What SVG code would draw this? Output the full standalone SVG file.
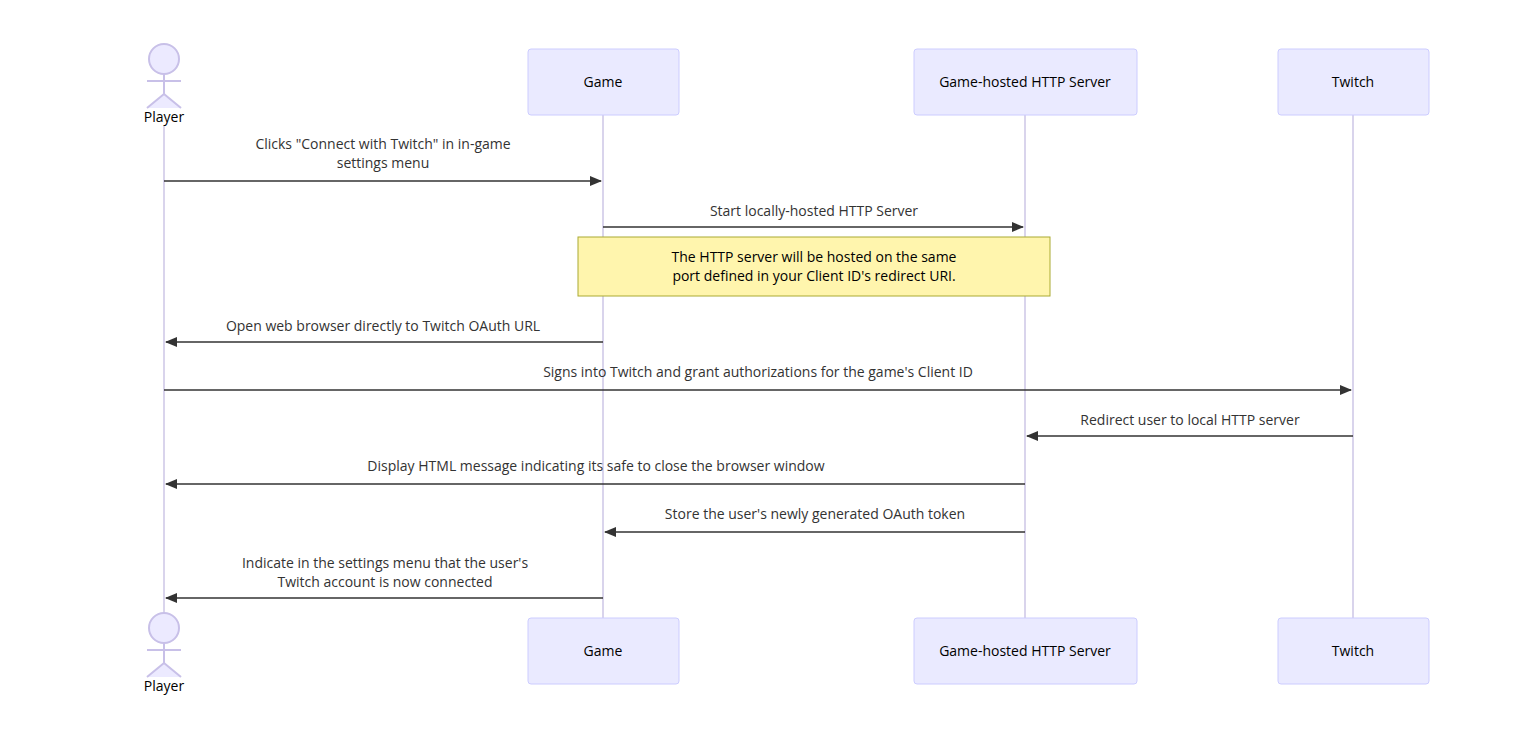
<svg xmlns="http://www.w3.org/2000/svg" width="1518" height="734" viewBox="0 0 1518 734">
<style>
.box{fill:#eaeaff;stroke:#ccccff;stroke-width:1}
.lab{font-family:"Open Sans","Liberation Sans",sans-serif;font-size:14px;fill:#000;text-anchor:middle}
.msg{font-family:"Open Sans","Liberation Sans",sans-serif;font-size:14px;fill:#333;text-anchor:middle}
.life{stroke:#ccc6e6;stroke-width:1.5}
.act{fill:#eceaff;stroke:#c8c0e8;stroke-width:2}
.arrow{stroke:#333;stroke-width:1.5;fill:none;marker-end:url(#ah)}
</style>
<defs>
<marker id="ah" viewBox="0 0 12 10" refX="11" refY="5" markerWidth="12" markerHeight="10" markerUnits="userSpaceOnUse" orient="auto"><path d="M0,0 L12,5 L0,10 z" fill="#333"/></marker>
</defs>
<rect width="1518" height="734" fill="#fff"/>
<g id="lifelines">
<line class="life" x1="164" y1="125" x2="164" y2="618"/>
<line class="life" x1="603" y1="115" x2="603" y2="618"/>
<line class="life" x1="1025" y1="115" x2="1025" y2="618"/>
<line class="life" x1="1353" y1="115" x2="1353" y2="618"/>
</g>
<g id="player-top"><circle class="act" cx="164" cy="59" r="15"/><line class="act" x1="164" y1="74" x2="164" y2="94"/><line class="act" x1="147" y1="81" x2="181" y2="81"/><path class="act" fill="none" d="M147,108 L164,94 L181,108"/><text class="lab" x="164" y="122">Player</text></g>
<g id="player-bottom"><circle class="act" cx="164" cy="628" r="15"/><line class="act" x1="164" y1="643" x2="164" y2="663"/><line class="act" x1="147" y1="650" x2="181" y2="650"/><path class="act" fill="none" d="M147,677 L164,663 L181,677"/><text class="lab" x="164" y="691">Player</text></g>
<g id="game-top"><rect class="box" x="528" y="49" width="151" height="66" rx="3"/><text class="lab" x="603" y="87">Game</text></g>
<g id="server-top"><rect class="box" x="914" y="49" width="223" height="66" rx="3"/><text class="lab" x="1025" y="87">Game-hosted HTTP Server</text></g>
<g id="twitch-top"><rect class="box" x="1278" y="49" width="151" height="66" rx="3"/><text class="lab" x="1353" y="87">Twitch</text></g>
<g id="game-bottom"><rect class="box" x="528" y="618" width="151" height="66" rx="3"/><text class="lab" x="603" y="656">Game</text></g>
<g id="server-bottom"><rect class="box" x="914" y="618" width="223" height="66" rx="3"/><text class="lab" x="1025" y="656">Game-hosted HTTP Server</text></g>
<g id="twitch-bottom"><rect class="box" x="1278" y="618" width="151" height="66" rx="3"/><text class="lab" x="1353" y="656">Twitch</text></g>
<g id="note"><rect x="578" y="237" width="472" height="59" fill="#fff5ad" stroke="#aaaa33"/><text class="lab" x="814" y="262">The HTTP server will be hosted on the same</text><text class="lab" x="814" y="281">port defined in your Client ID's redirect URI.</text></g>
<g id="connectors">
<line class="arrow" x1="164" y1="181" x2="601" y2="181"/>
<line class="arrow" x1="603" y1="227" x2="1023" y2="227"/>
<line class="arrow" x1="603" y1="342" x2="166" y2="342"/>
<line class="arrow" x1="164" y1="390" x2="1351" y2="390"/>
<line class="arrow" x1="1353" y1="436" x2="1027" y2="436"/>
<line class="arrow" x1="1025" y1="484" x2="166" y2="484"/>
<line class="arrow" x1="1025" y1="532" x2="605" y2="532"/>
<line class="arrow" x1="603" y1="598" x2="166" y2="598"/>
</g>
<g id="labels">
<text class="msg" x="383" y="149">Clicks "Connect with Twitch" in in-game</text>
<text class="msg" x="383" y="168">settings menu</text>
<text class="msg" x="814" y="216">Start locally-hosted HTTP Server</text>
<text class="msg" x="383" y="331">Open web browser directly to Twitch OAuth URL</text>
<text class="msg" x="758" y="377">Signs into Twitch and grant authorizations for the game's Client ID</text>
<text class="msg" x="1190" y="425">Redirect user to local HTTP server</text>
<text class="msg" x="596" y="471">Display HTML message indicating its safe to close the browser window</text>
<text class="msg" x="815" y="519">Store the user's newly generated OAuth token</text>
<text class="msg" x="385" y="568">Indicate in the settings menu that the user's</text>
<text class="msg" x="385" y="587">Twitch account is now connected</text>
</g>
</svg>
